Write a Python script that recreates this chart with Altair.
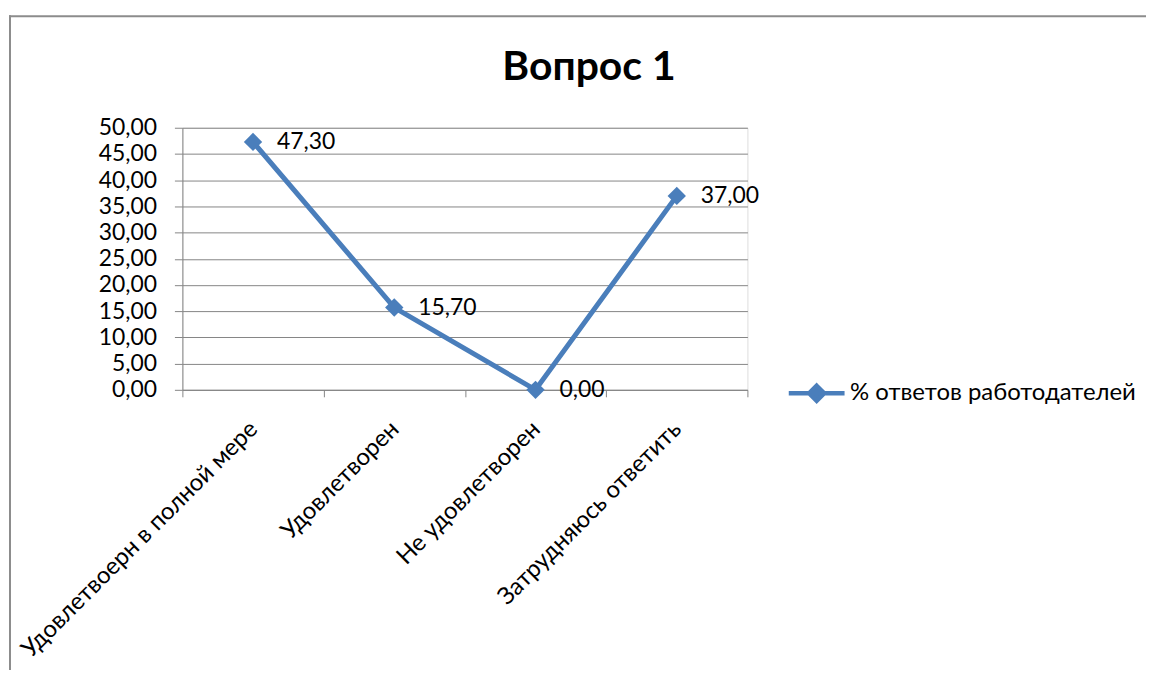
import altair as alt
import pandas as pd

categories = ["Удовлетвоерн в полной мере", "Удовлетворен", "Не удовлетворен", "Затрудняюсь ответить"]
values = [47.3, 15.7, 0.0, 37.0]
series_name = "% ответов работодателей"
title_text = "Вопрос 1"
y_ticks = [0, 5, 10, 15, 20, 25, 30, 35, 40, 45, 50]

df = pd.DataFrame({"cat": categories, "val": values, "series": [series_name] * len(categories)})

FONT = "Lato"
BLUE = "#4A7EBB"
GRID = "#868686"
W, H = 567, 263

x_enc = alt.X(
    "cat:N",
    sort=categories,
    scale=alt.Scale(type="band", paddingInner=0, paddingOuter=0),
    axis=alt.Axis(
        title=None,
        labelAngle=-45,
        labelFontSize=24,
        labelFont=FONT,
        labelColor="#000000",
        labelLimit=500,
        labelPadding=20,
        labelOffset=-8,
        labelOverlap=False,
        tickBand="extent",
        tickSize=7,
        tickColor=GRID,
        domainColor=GRID,
        grid=False,
    ),
)
y_enc = alt.Y(
    "val:Q",
    scale=alt.Scale(domain=[0, 50], nice=False, zero=True),
    axis=alt.Axis(
        title=None,
        values=y_ticks,
        labelExpr="replace(format(datum.value, '.2f'), '.', ',')",
        labelFontSize=23,
        labelFont=FONT,
        labelColor="#000000",
        labelPadding=18,
        labelOverlap=False,
        labelFlush=False,
        tickSize=8,
        tickColor=GRID,
        domainColor=GRID,
        gridColor=GRID,
        gridWidth=1,
    ),
)

color_enc = alt.Color(
    "series:N",
    scale=alt.Scale(range=[BLUE]),
    legend=alt.Legend(
        title=None,
        orient="none",
        legendX=606,
        legendY=236,
        symbolType="M-1,0L1,0M0,-0.27L0.27,0L0,0.27L-0.27,0Z",
        symbolSize=3136,
        symbolStrokeWidth=4.5,
        symbolStrokeColor=BLUE,
        symbolFillColor=BLUE,
        labelFont=FONT,
        labelFontSize=24,
        labelColor="#000000",
        labelLimit=400,
        labelOffset=3,
    ),
)

base = alt.Chart(df)

line = base.mark_line(strokeWidth=5, color=BLUE).encode(x=x_enc, y=y_enc, color=color_enc)
points = base.mark_point(shape="diamond", filled=True, size=340, opacity=1, color=BLUE).encode(
    x=x_enc, y=y_enc
)
labels = base.transform_calculate(
    lbl="replace(format(datum.val, '.2f'), '.', ',')"
).mark_text(align="left", baseline="middle", dx=24, fontSize=23, font=FONT, color="#000000").encode(
    x=x_enc, y=y_enc, text="lbl:N"
)

frame_df = pd.DataFrame({"k": [0]})
border_top = alt.Chart(frame_df).mark_rule(stroke="#8c8c8c", strokeWidth=2).encode(
    x=alt.value(-174), x2=alt.value(1050), y=alt.value(-112)
)
border_left = alt.Chart(frame_df).mark_rule(stroke="#8c8c8c", strokeWidth=2).encode(
    x=alt.value(-173), y=alt.value(-113), y2=alt.value(700)
)

title = alt.Chart(pd.DataFrame({"t": [title_text]})).mark_text(
    font=FONT, fontSize=41, fontWeight="bold", color="#000000", align="center", baseline="alphabetic"
).encode(x=alt.value(408), y=alt.value(-48), text="t:N")

chart = alt.layer(border_top, border_left, line, points, labels, title).properties(
    width=W,
    height=H,
    padding={"left": 175, "top": 119, "right": 400, "bottom": 280},
    autosize=alt.AutoSizeParams(type="none"),
).configure_view(stroke=None).configure(background="white")

chart.save("out.html", embed_options={"renderer": "svg", "actions": False})
